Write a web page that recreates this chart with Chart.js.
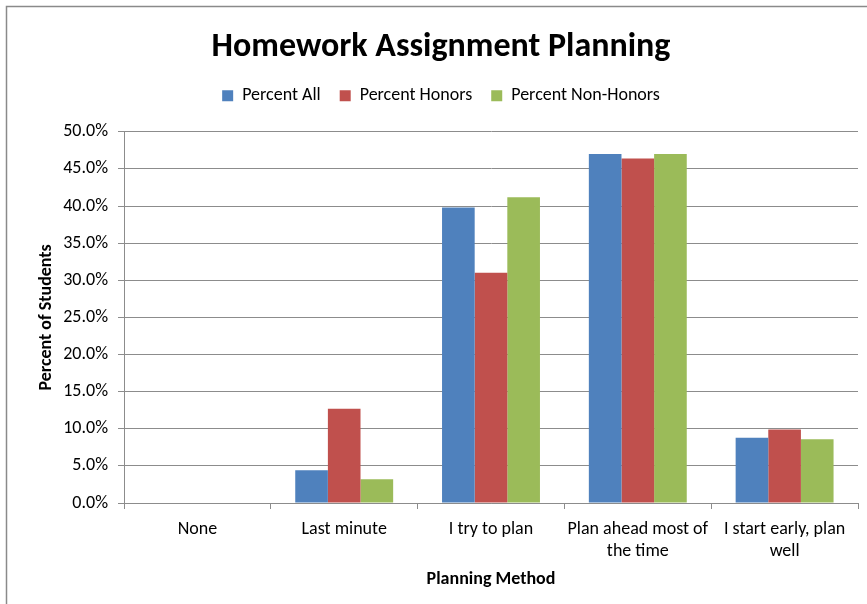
<!DOCTYPE html>
<html>
<head>
<meta charset="utf-8">
<script src="https://cdn.jsdelivr.net/npm/chart.js@4"></script>
<style>
  html, body { margin: 0; padding: 0; background: #fff; }
  #wrap { position: relative; width: 867px; height: 604px; }
</style>
</head>
<body>
<div id="wrap"><canvas id="myChart"></canvas></div>
<script>
// data
const categories = [
  "None",
  "Last minute",
  "I try to plan",
  ["Plan ahead most of", "the time"],
  ["I start early, plan", "well"],
];
const percentAll = [0, 4.4, 39.8, 47.0, 8.8];
const percentHonors = [0, 12.7, 31.0, 46.4, 9.9];
const percentNonHonors = [0, 3.2, 41.2, 47.0, 8.6];
const seriesNames = ["Percent All", "Percent Honors", "Percent Non-Honors"];
const seriesColors = ["#4F81BD", "#C0504D", "#9BBB59"];

const fontFamily = 'Carlito, Calibri, Lato, "Open Sans", sans-serif';
const gridGray = "#8c8c8c";

// outer chart frame (only top and left edges are visible in the reference)
const framePlugin = {
  id: "frame",
  beforeDraw(chart) {
    const ctx = chart.ctx;
    ctx.save();
    ctx.strokeStyle = "#8a8a8a";
    ctx.lineWidth = 1.5;
    ctx.strokeRect(6.5, 6.5, chart.width + 20, chart.height + 20);
    ctx.restore();
  },
};

// extra blank room under the legend, like the Excel layout
const legendGapPlugin = {
  id: "legendGap",
  afterInit(chart) {
    const lg = chart.legend;
    if (!lg) return;
    const origFit = lg.fit;
    lg.fit = function () {
      origFit.call(this);
      this.height += 17;
    };
  },
};

const ctx = document.getElementById("myChart").getContext("2d");
const myChart = new Chart(ctx, {
  type: "bar",
  data: {
    labels: categories,
    datasets: [percentAll, percentHonors, percentNonHonors].map((values, i) => ({
      label: seriesNames[i],
      data: values,
      backgroundColor: seriesColors[i],
      borderWidth: 0,
      barPercentage: 1,
      categoryPercentage: 0.667,
    })),
  },
  options: {
    responsive: true,
    maintainAspectRatio: false,
    animation: false,
    layout: {
      padding: { left: 24, right: 9, top: 0, bottom: 0 },
    },
    plugins: {
      title: {
        display: true,
        text: "Homework Assignment Planning",
        color: "#000",
        font: { family: fontFamily, size: 34, weight: "bold" },
        padding: { top: 27, bottom: 0 },
      },
      legend: {
        position: "top",
        labels: {
          boxWidth: 11,
          boxHeight: 11,
          padding: 19,
          color: "#000",
          font: { family: fontFamily, size: 18 },
        },
      },
      tooltip: { enabled: false },
    },
    scales: {
      x: {
        grid: {
          display: true,
          drawOnChartArea: false,
          drawTicks: true,
          tickLength: 6,
          color: gridGray,
          offset: true,
        },
        border: { color: gridGray },
        ticks: {
          color: "#000",
          maxRotation: 0,
          autoSkip: false,
          padding: 10,
          font: { family: fontFamily, size: 18 },
        },
        title: {
          display: true,
          text: "Planning Method",
          color: "#000",
          font: { family: fontFamily, size: 18, weight: "bold" },
          padding: { top: 4, bottom: 14 },
        },
        afterFit(scale) {
          scale.height = 101;
        },
      },
      y: {
        min: 0,
        max: 50,
        grid: {
          color: gridGray,
          tickLength: 6,
        },
        border: { color: gridGray },
        ticks: {
          stepSize: 5,
          color: "#000",
          padding: 10,
          font: { family: fontFamily, size: 18 },
          callback: (v) => v.toFixed(1) + "%",
        },
        title: {
          display: true,
          text: "Percent of Students",
          color: "#000",
          font: { family: fontFamily, size: 18, weight: "bold" },
          padding: { top: 12, bottom: 0 },
        },
        afterFit(scale) {
          scale.width = 100;
        },
      },
    },
  },
  plugins: [framePlugin, legendGapPlugin],
});
</script>
</body>
</html>
